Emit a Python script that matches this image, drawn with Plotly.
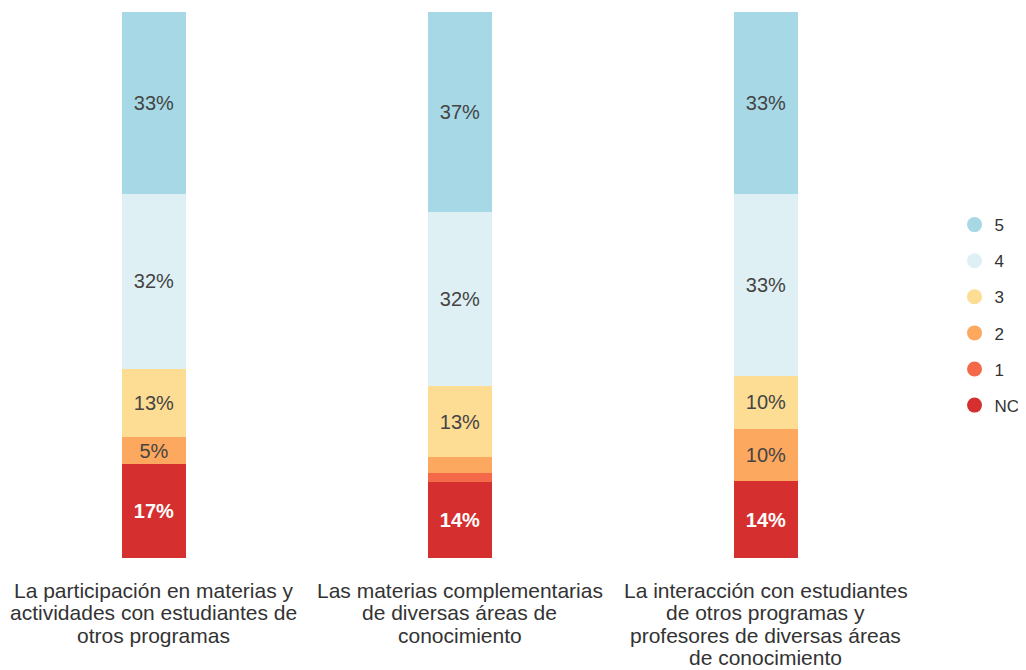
import plotly.graph_objects as go

# categories (x axis) and percentages per answer level
categories = [
    "La participación en materias y<br>actividades con estudiantes de<br>otros programas",
    "Las materias complementarias<br>de diversas áreas de<br>conocimiento",
    "La interacción con estudiantes<br>de otros programas y<br>profesores de diversas áreas<br>de conocimiento",
]
levels = ["NC", "1", "2", "3", "4", "5"]
nc_vals = [17.2, 14.0, 14.1]
one_vals = [0.0, 1.5, 0.0]
two_vals = [4.9, 3.0, 9.6]
three_vals = [12.6, 13.0, 9.6]
four_vals = [31.9, 31.9, 33.4]
five_vals = [33.4, 36.6, 33.3]

series = {
    "NC": nc_vals,
    "1": one_vals,
    "2": two_vals,
    "3": three_vals,
    "4": four_vals,
    "5": five_vals,
}
colors = {
    "NC": "#d62f2f",
    "1": "#f4694a",
    "2": "#fca85e",
    "3": "#fddc94",
    "4": "#dff0f5",
    "5": "#a6d8e5",
}
text_colors = {"NC": "white"}
FONT = "Liberation Sans, Arial, Helvetica, sans-serif"
TEXT_C = "#333333"

fig = go.Figure()
for lvl in levels:
    vals = series[lvl]
    fig.add_trace(
        go.Bar(
            x=categories,
            y=vals,
            name=lvl,
            marker={"color": colors[lvl], "line": {"width": 0}},
            text=[f"{round(v)}%" if v >= 4.5 else "" for v in vals],
            textposition="inside",
            insidetextanchor="middle",
            textangle=0,
            constraintext="none",
            textfont={
                "size": 20,
                "color": text_colors.get(lvl, "#444444"),
                "family": FONT,
                "weight": "bold" if lvl == "NC" else "normal",
            },
            showlegend=False,
            hoverinfo="skip",
        )
    )

# legend with round markers, 5 on top
for lvl in reversed(levels):
    fig.add_trace(
        go.Scatter(
            x=[None],
            y=[None],
            mode="markers",
            name=lvl,
            legendgroup=lvl,
            marker={"color": colors[lvl], "size": 15, "symbol": "circle"},
        )
    )

# category labels, one annotation per line to keep the tight line spacing
for cat in categories:
    for i, line in enumerate(cat.split("<br>")):
        fig.add_annotation(
            x=cat,
            y=0,
            xref="x",
            yref="paper",
            yanchor="middle",
            yshift=-32 - i * 22.5,
            text=line,
            showarrow=False,
            font={"size": 21, "color": TEXT_C, "family": FONT},
        )

# page body adds 8px of margin, so the figure is 8px smaller than the window
fig.update_layout(
    barmode="stack",
    bargap=0.79,
    width=1018,
    height=662,
    margin=dict(t=4, b=112, l=0, r=107),
    paper_bgcolor="white",
    plot_bgcolor="white",
    font={"family": FONT, "color": TEXT_C, "size": 17},
    xaxis={
        "showgrid": False,
        "showline": False,
        "ticks": "",
        "showticklabels": False,
        "range": [-0.477, 2.5],
    },
    yaxis={"visible": False, "range": [0, 100]},
    legend={
        "x": 1.039,
        "xanchor": "left",
        "y": 0.445,
        "yanchor": "middle",
        "tracegroupgap": 11,
        "font": {"size": 17, "color": TEXT_C},
        "itemwidth": 30,
    },
)

fig.write_html("out.html")
